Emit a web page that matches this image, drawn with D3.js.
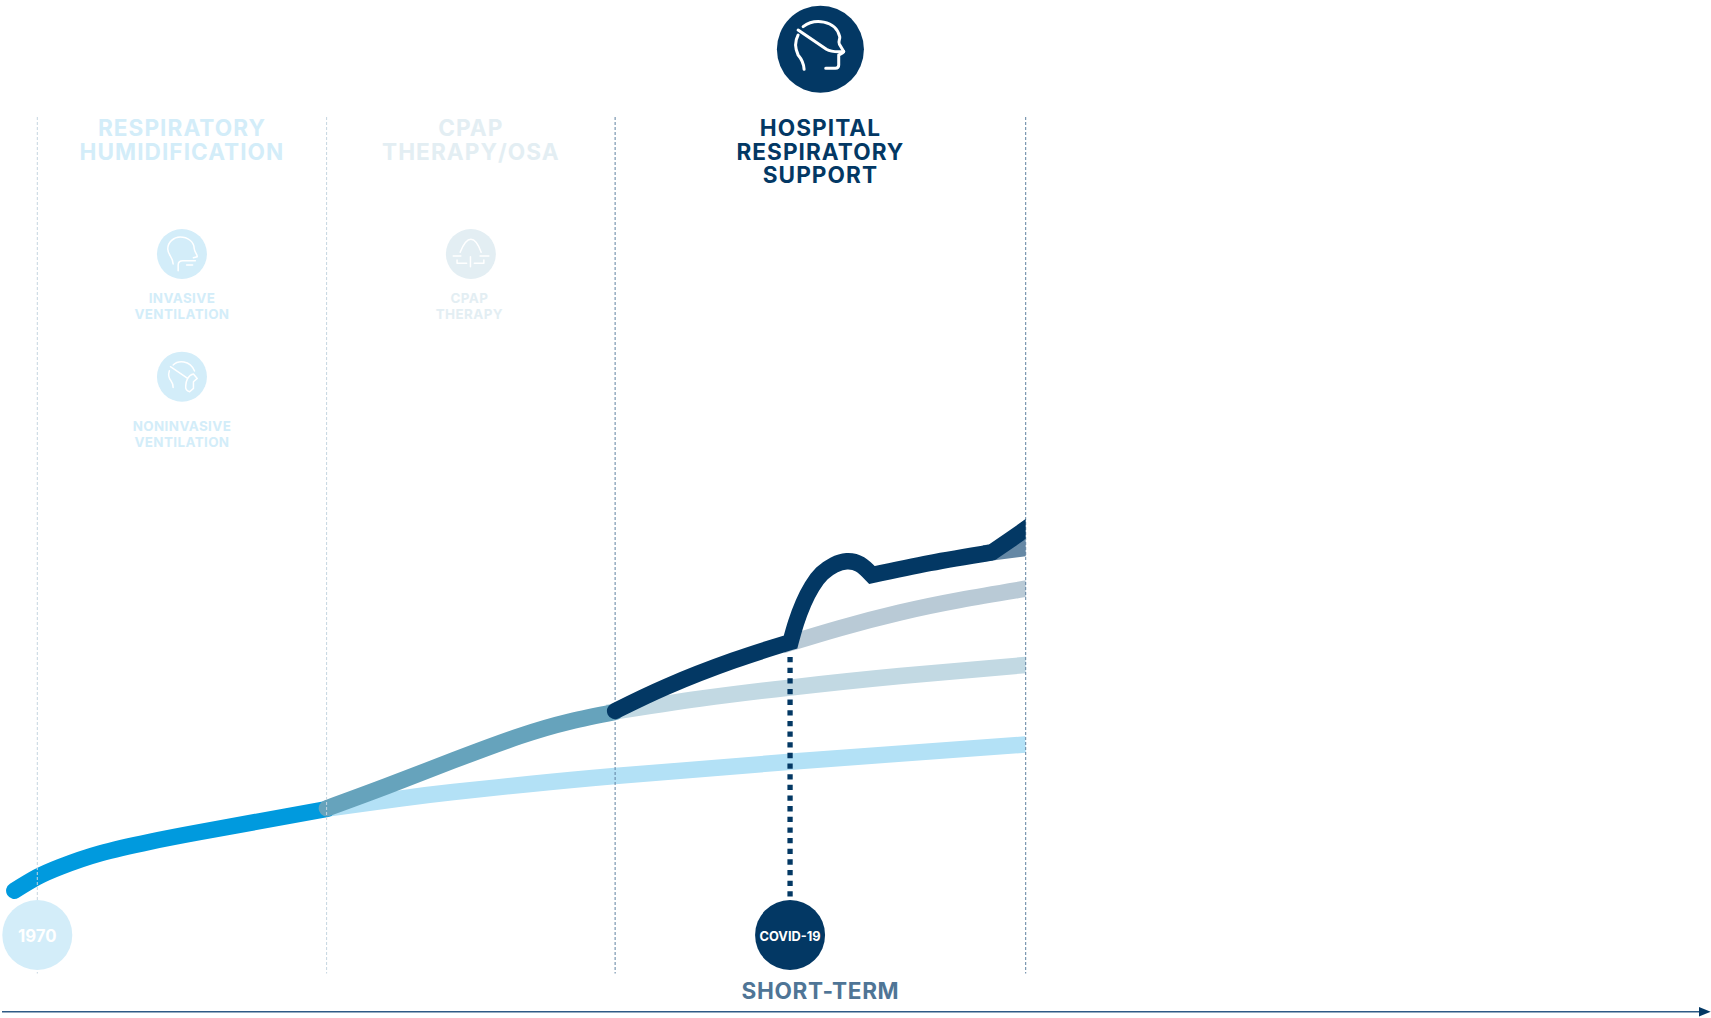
<!DOCTYPE html>
<html>
<head>
<meta charset="utf-8">
<script src="https://cdn.jsdelivr.net/npm/d3@7"></script>
<style>
	html, body { margin: 0; padding: 0; background: #fff; }
	svg { display: block; }
	text { font-family: Inter, "Open Sans", sans-serif; font-weight: 700; text-anchor: middle; }
</style>
</head>
<body>
<script>
// time runs 0-100 across the drawn part of the story, level runs 0-100 up the page
var columnEdges = [0, 29.27, 58.46, 100];
var columnTitles = [
	['RESPIRATORY', 'HUMIDIFICATION'],
	['CPAP', 'THERAPY/OSA'],
	['HOSPITAL', 'RESPIRATORY', 'SUPPORT']
];
var eventTimes = [0, 76.16];
var eventLabels = ['1970', 'COVID-19'];
var axisLabel = 'SHORT-TERM';

// [time, level]
var humidification = [[-2.33, 9.51], [0, 11.11], [2.33, 12.3], [6.37, 13.88], [11.43, 15.24], [16.49, 16.37], [29.3, 19.06]];
var humidificationAfter = [[29.3, 19.12], [36.7, 20.29], [42.09, 21.05], [49.85, 21.99], [58.45, 22.92], [77.17, 24.68], [100, 26.61]];
var cpap = [[29.3, 19.15], [35.38, 21.75], [42.09, 24.74], [48.84, 27.6], [53.9, 29.3], [58.45, 30.41]];
var cpapAfter = [[58.46, 30.47], [67.06, 31.96], [76.16, 33.27], [87.29, 34.62], [100, 35.91]];
var hospitalTrend = [[76.16, 38.48], [81.22, 40.23], [87.28, 42.05], [93.35, 43.51], [100, 44.83]];
var hospitalTail = [[96.59, 49.09], [100, 49.6]];

// the hospital line has hard corners, so it is kept in pieces
var hospitalBefore = [[58.46, 30.53], [63.71, 33.4], [70.42, 36.43], [76.21, 38.6]];
var hospitalSurge = [[76.21, 38.6], [76.76, 40.82], [77.52, 43.16], [78.38, 45.09], [79.39, 46.61], [80.61, 47.6], [81.89, 48.04], [83.24, 47.68], [84.45, 46.43]];
var hospitalSettle = [[84.45, 46.43], [90.32, 47.84], [96.59, 49.09]];
var hospitalRise = [[96.59, 49.09], [98.41, 50.53], [100, 51.81], [101, 52.6]];

var width = 1711,
	height = 1018;

var NAVY = '#033864',
	PALE_BLUE = '#d3edf9',
	PALE_GREY = '#e3eef3',
	BAND = 16.4;

var xScale = d3.scaleLinear().domain([0, 100]).range([37.3, 1025.7]);
var yScale = d3.scaleLinear().domain([0, 100]).range([972, 117]);

var line = d3.line()
	.x(function(d) { return xScale(d[0]); })
	.y(function(d) { return yScale(d[1]); })
	.curve(d3.curveNatural);

var svg = d3.select('body').append('svg')
	.attr('width', width)
	.attr('height', height);

svg.append('clipPath').attr('id', 'plotClip')
	.append('rect')
		.attr('x', 0)
		.attr('y', 0)
		.attr('width', xScale(100))
		.attr('height', height);

function band(points, color, cap) {
	return svg.append('path')
		.attr('d', line(points))
		.attr('clip-path', 'url(#plotClip)')
		.attr('fill', 'none')
		.attr('stroke', color)
		.attr('stroke-width', BAND)
		.attr('stroke-linecap', cap);
}

band(humidificationAfter, '#b3e1f6', 'butt');
band(humidification, '#009ade', 'round');
band(cpapAfter, '#c2d9e3', 'square');
band(cpap, '#66a3bc', 'round');
band(hospitalTrend, '#b9cad6', 'square');
band(hospitalTail, '#6588a5', 'square');

// column edges
svg.selectAll('.edge').data(columnEdges).enter().append('line')
	.attr('class', 'edge')
	.attr('x1', function(d) { return xScale(d); })
	.attr('x2', function(d) { return xScale(d); })
	.attr('y1', yScale(100))
	.attr('y2', 973.5)
	.attr('stroke', function(d, i) { return i < 2 ? '#c5d5e0' : '#5f82a1'; })
	.attr('stroke-width', 1)
	.attr('stroke-dasharray', '3 2');

// stitched so the corners between the pieces come out mitred
var hospitalPath = [hospitalBefore, hospitalSurge, hospitalSettle, hospitalRise].map(function(piece, i) {
	var d = line(piece);
	return i ? 'L' + d.slice(1) : d;
}).join('');

svg.append('path')
	.attr('d', hospitalPath)
	.attr('clip-path', 'url(#plotClip)')
	.attr('fill', 'none')
	.attr('stroke', NAVY)
	.attr('stroke-width', BAND)
	.attr('stroke-linecap', 'round')
	.attr('stroke-linejoin', 'miter');

// dotted drop from the covid corner to its marker
svg.append('line')
	.attr('x1', xScale(eventTimes[1]))
	.attr('x2', xScale(eventTimes[1]))
	.attr('y1', 657)
	.attr('y2', 897)
	.attr('stroke', NAVY)
	.attr('stroke-width', 5.3)
	.attr('stroke-dasharray', '5.3 5.35');

// event markers
var eventColors = [PALE_BLUE, NAVY];
var eventSizes = [16.8, 12.8];
eventTimes.forEach(function(t, i) {
	svg.append('circle')
		.attr('cx', xScale(t))
		.attr('cy', 935)
		.attr('r', 35)
		.attr('fill', eventColors[i]);
	svg.append('text')
		.attr('x', xScale(t))
		.attr('y', 936 + eventSizes[i] * 0.36)
		.attr('font-size', eventSizes[i])
		.attr('fill', '#fff')
		.text(eventLabels[i]);
});

// column headings
var titleColors = [PALE_BLUE, PALE_GREY, NAVY];
columnTitles.forEach(function(lines, i) {
	var cx = xScale((columnEdges[i] + columnEdges[i + 1]) / 2);
	svg.selectAll('.title' + i).data(lines).enter().append('text')
		.attr('class', 'title' + i)
		.attr('x', cx)
		.attr('y', function(d, j) { return 136 + j * 23.6; })
		.attr('font-size', 22.6)
		.attr('letter-spacing', 1.05)
		.attr('fill', titleColors[i])
		.text(function(d) { return d; });
});

// small icons and their captions
function icon(cx, cy, r, color, paths, stroke) {
	var g = svg.append('g').attr('transform', 'translate(' + cx + ',' + cy + ')');
	g.append('circle').attr('r', r).attr('fill', color);
	g.selectAll('path').data(paths).enter().append('path')
		.attr('d', function(d) { return d; })
		.attr('fill', 'none')
		.attr('stroke', '#fff')
		.attr('stroke-width', stroke)
		.attr('stroke-linecap', 'round')
		.attr('stroke-linejoin', 'round');
}

function caption(cx, y, lines, color) {
	svg.selectAll(null).data(lines).enter().append('text')
		.attr('x', cx)
		.attr('y', function(d, j) { return y + j * 16.2; })
		.attr('font-size', 13.4)
		.attr('letter-spacing', 0.4)
		.attr('fill', color)
		.text(function(d) { return d; });
}

var firstCol = xScale((columnEdges[0] + columnEdges[1]) / 2);
var secondCol = xScale((columnEdges[1] + columnEdges[2]) / 2);
var thirdCol = xScale((columnEdges[2] + columnEdges[3]) / 2);

icon(firstCol, 254, 25, PALE_BLUE, [
	'M-8.8,10 C-9,3 -14.2,1 -14.2,-5 C-14.2,-12 -8,-17 -1.9,-17 C6,-17 12,-12 12.2,-5.7 C12.5,-2 15.3,0 15.3,2.7 L11.5,3.7',
	'M-3.8,16.7 L-3.8,11 Q-3.8,6.7 1,6.7 L13.4,6.7',
	'M4.6,11 L10.7,11'
], 1.5);
caption(firstCol, 303, ['INVASIVE', 'VENTILATION'], PALE_BLUE);

icon(firstCol, 376.7, 25, PALE_BLUE, [
	'M-11.5,-10 L5.7,1.7',
	'M-8.8,-11.7 C-4,-16.5 8,-17 12.6,-5.7',
	'M-12.6,-6 Q-14.5,0 -11,4 Q-8.8,7 -8.8,10.7',
	'M5.7,1.7 Q8,-2 11.5,-2.7 L15.3,1.7 L11.5,5 L11.5,11.7 L7.7,15 Q3,14 3.8,9 Q4,5 5.7,1.7'
], 1.5);
caption(firstCol, 431, ['NONINVASIVE', 'VENTILATION'], PALE_BLUE);

icon(secondCol, 254, 25, PALE_GREY, [
	'M-10.7,-1.7 C-7,-11 -4,-14.7 0,-14.7 C4,-14.7 7,-11 10.3,-1.7',
	'M-17.6,2 L-10,2',
	'M9.2,2 L18,2',
	'M-13.8,6 L-13.8,9.3 L-4.2,9.3',
	'M3.4,9.3 L13,9.3 L13,6',
	'M-0.4,2.7 L-0.4,12.7'
], 1.5);
caption(secondCol - 1.5, 303, ['CPAP', 'THERAPY'], PALE_GREY);

icon(thirdCol, 49.3, 43.5, NAVY, [
	'M-17.3,-22.7 C-6.7,-30.7 15,-30 19.3,-12.7 C20,-10 17.3,-8.3 19,-5 L23.3,2.3 Q22.7,4 18.3,5.7 L18.3,15.7 Q18.3,19 15,19 L5.3,19',
	'M-22.3,-19.3 L6,0 Q11.7,3.3 23.3,2.3',
	'M-22.3,-14.3 Q-27.3,-5 -22.3,5.7 Q-16.7,12.3 -16.3,20'
], 3);

// time arrow along the bottom
svg.append('line')
	.attr('x1', 2)
	.attr('x2', 1700)
	.attr('y1', 1011.7)
	.attr('y2', 1011.7)
	.attr('stroke', '#2f5a85')
	.attr('stroke-width', 1.6);
svg.append('path')
	.attr('d', d3.line()([[1699, 1007], [1710.7, 1011.7], [1699, 1016.4]]) + 'Z')
	.attr('fill', NAVY);

svg.append('text')
	.attr('x', thirdCol)
	.attr('y', 999.3)
	.attr('font-size', 22.6)
	.attr('letter-spacing', 0.65)
	.attr('fill', '#4f7596')
	.text(axisLabel);
</script>
</body>
</html>
